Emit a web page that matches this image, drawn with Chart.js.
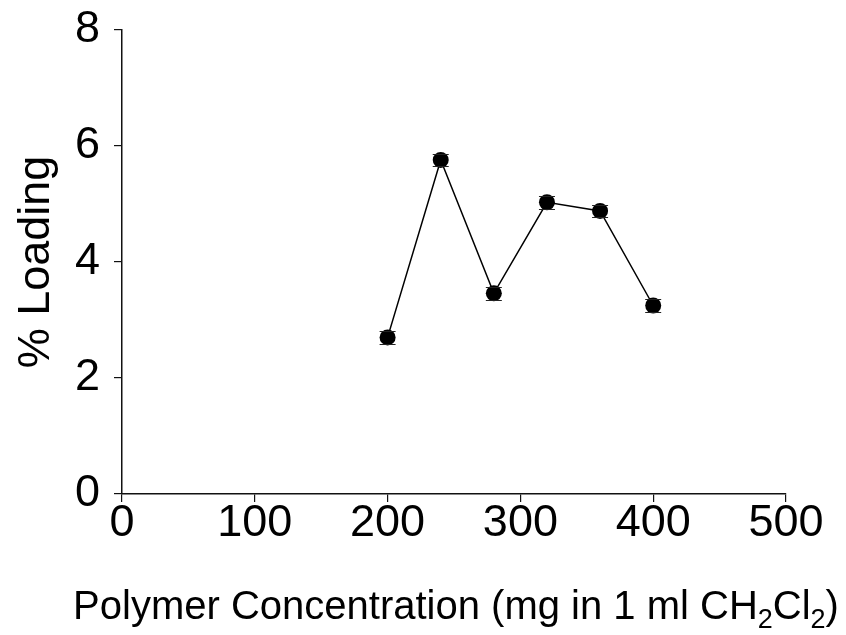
<!DOCTYPE html>
<html>
<head>
<meta charset="utf-8">
<script src="https://cdn.jsdelivr.net/npm/chart.js@4/dist/chart.umd.min.js"></script>
<style>
  html, body { margin: 0; padding: 0; background: #fff; }
  #wrap { width: 846px; height: 635px; position: relative; }
</style>
</head>
<body>
<div id="wrap"><canvas id="c" width="846" height="635"></canvas></div>
<script>
const concentrations = [200, 240, 280, 320, 360, 400];
const loading = [2.70, 5.76, 3.46, 5.03, 4.88, 3.25];
const loadingErr = [0.11, 0.11, 0.11, 0.11, 0.11, 0.11];
const xTicks = [0, 100, 200, 300, 400, 500];
const yTicks = [0, 2, 4, 6, 8];
const yTitle = '% Loading';
const xTitleParts = [['Polymer Concentration (mg in 1 ml CH', 0], ['2', 1], ['Cl', 0], ['2', 1], [')', 0]];

const FONT = '"Liberation Sans", Arial, sans-serif';

const errorBars = {
  id: 'errorBars',
  afterDatasetsDraw(chart) {
    const ctx = chart.ctx;
    const xs = chart.scales.x, ys = chart.scales.y;
    ctx.save();
    ctx.strokeStyle = '#222';
    ctx.lineWidth = 1;
    concentrations.forEach((c, i) => {
      const x = xs.getPixelForValue(c);
      const yT = Math.round(ys.getPixelForValue(loading[i] + loadingErr[i])) + 0.5;
      const yB = Math.round(ys.getPixelForValue(loading[i] - loadingErr[i])) + 0.5;
      ctx.beginPath();
      ctx.moveTo(x - 8, yT); ctx.lineTo(x + 8, yT);
      ctx.moveTo(x - 8, yB); ctx.lineTo(x + 8, yB);
      ctx.stroke();
    });
    ctx.restore();
  }
};

const titlesPlugin = {
  id: 'titles',
  afterDraw(chart) {
    const ctx = chart.ctx;
    const xs = chart.scales.x, ys = chart.scales.y;
    ctx.save();
    ctx.fillStyle = '#000';
    ctx.textBaseline = 'alphabetic';
    // x title with subscripts
    const big = '40px ' + FONT, small = '27px ' + FONT;
    let total = 0;
    xTitleParts.forEach(([t, sub]) => { ctx.font = sub ? small : big; total += ctx.measureText(t).width; });
    let x = (xs.left + xs.right) / 2 + 2 - total / 2;
    const base = 619;
    xTitleParts.forEach(([t, sub]) => {
      ctx.font = sub ? small : big;
      ctx.fillText(t, x, sub ? base + 9 : base);
      x += ctx.measureText(t).width;
    });
    // y title, rotated
    ctx.font = '45px ' + FONT;
    ctx.textAlign = 'center';
    ctx.translate(49, (ys.top + ys.bottom) / 2);
    ctx.rotate(-Math.PI / 2);
    ctx.fillText(yTitle, 0, 0);
    ctx.restore();
  }
};

new Chart(document.getElementById('c'), {
  type: 'scatter',
  data: {
    datasets: [{
      data: concentrations.map((c, i) => ({ x: c, y: loading[i] })),
      showLine: true,
      borderColor: '#000',
      borderWidth: 1.5,
      backgroundColor: '#000',
      pointRadius: 8,
      pointHoverRadius: 8,
      pointBackgroundColor: '#000',
      pointBorderColor: '#000',
      pointBorderWidth: 0,
      tension: 0
    }]
  },
  options: {
    responsive: false,
    animation: false,
    events: [],
    layout: { padding: { top: 30, right: 60, left: 0, bottom: 0 } },
    plugins: { legend: { display: false }, tooltip: { enabled: false } },
    scales: {
      x: {
        type: 'linear', min: 0, max: 500,
        afterBuildTicks(s) { s.ticks = xTicks.map(v => ({ value: v })); },
        afterFit(s) { s.height = 141; s.paddingLeft = 0; s.paddingRight = 0; },
        border: { display: true, color: '#111', width: 1.5 },
        grid: { drawOnChartArea: false, drawTicks: true, tickLength: 8, color: '#111', lineWidth: 1.2 },
        ticks: { color: '#000', font: { family: FONT, size: 45 }, padding: -5, maxRotation: 0, autoSkip: false }
      },
      y: {
        type: 'linear', min: 0, max: 8,
        afterBuildTicks(s) { s.ticks = yTicks.map(v => ({ value: v })); },
        afterFit(s) { s.width = 122; s.paddingTop = 0; s.paddingBottom = 0; },
        border: { display: true, color: '#111', width: 1.5 },
        grid: { drawOnChartArea: false, drawTicks: true, tickLength: 8, color: '#111', lineWidth: 1.2 },
        ticks: { color: '#000', font: { family: FONT, size: 45 }, padding: 14, autoSkip: false }
      }
    }
  },
  plugins: [errorBars, titlesPlugin]
});
</script>
</body>
</html>
